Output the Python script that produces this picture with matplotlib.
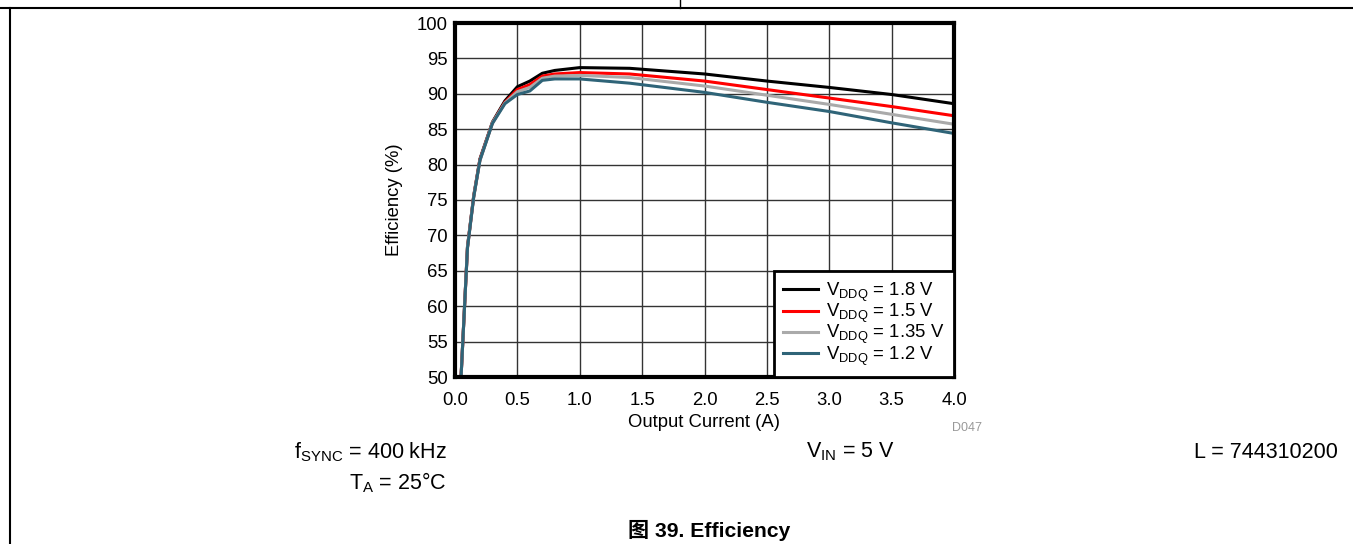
import matplotlib
matplotlib.use("Agg")
import matplotlib.pyplot as plt
from matplotlib.lines import Line2D

plt.rcParams['font.family'] = ['Liberation Sans', 'Noto Sans CJK SC', 'DejaVu Sans']
plt.rcParams['mathtext.fontset'] = 'custom'
plt.rcParams['mathtext.rm'] = 'Liberation Sans'
plt.rcParams['mathtext.it'] = 'Liberation Sans'
plt.rcParams['mathtext.bf'] = 'Liberation Sans:bold'

# Output current (A) sample points
current = [0.04, 0.1, 0.15, 0.2, 0.3, 0.4, 0.5, 0.6, 0.7, 0.8, 1.0, 1.4, 2.0, 2.5, 3.0, 3.5, 4.0]

# Efficiency (%) for each VDDQ setting
eff_18 = [47.0, 68.4, 75.6, 80.8, 86.0, 89.0, 91.0, 91.8, 92.9, 93.3, 93.7, 93.6, 92.8, 91.8, 90.9, 89.9, 88.6]
eff_15 = [47.0, 68.3, 75.5, 80.7, 85.9, 88.8, 90.6, 91.3, 92.5, 92.8, 93.0, 92.8, 91.8, 90.6, 89.4, 88.2, 86.9]
eff_135 = [47.0, 68.3, 75.5, 80.6, 85.9, 88.7, 90.3, 90.9, 92.2, 92.5, 92.6, 92.3, 91.1, 89.8, 88.5, 87.1, 85.7]
eff_12 = [47.0, 68.2, 75.4, 80.6, 85.8, 88.6, 89.9, 90.4, 91.9, 92.1, 92.1, 91.5, 90.2, 88.8, 87.5, 85.9, 84.4]

series = [
    (eff_18, '#000000', r'V$_{\mathregular{DDQ}}$ = 1.8 V'),
    (eff_15, '#ff0000', r'V$_{\mathregular{DDQ}}$ = 1.5 V'),
    (eff_135, '#aaaaaa', r'V$_{\mathregular{DDQ}}$ = 1.35 V'),
    (eff_12, '#2f6478', r'V$_{\mathregular{DDQ}}$ = 1.2 V'),
]

x_ticks = [0.0, 0.5, 1.0, 1.5, 2.0, 2.5, 3.0, 3.5, 4.0]
y_ticks = [50, 55, 60, 65, 70, 75, 80, 85, 90, 95, 100]

W, H = 1353, 544
fig = plt.figure(figsize=(W / 100, H / 100), dpi=100)

# page frame lines
fig.add_artist(Line2D([0, 1], [1 - 8 / H, 1 - 8 / H], color='black', lw=1.5, transform=fig.transFigure))
fig.add_artist(Line2D([680 / W, 680 / W], [1 - 8 / H, 1], color='black', lw=1.0, transform=fig.transFigure))
fig.add_artist(Line2D([10 / W, 10 / W], [0, 1 - 8 / H], color='black', lw=1.5, transform=fig.transFigure))

ax = fig.add_axes([455 / W, 1 - 377 / H, (954 - 455) / W, (377 - 23) / H])
for vals, col, lab in series:
    ax.plot(current, vals, color=col, lw=2.2, label=lab, zorder=3)

ax.set_xlim(0, 4)
ax.set_ylim(50, 100)
ax.set_xticks(x_ticks)
ax.set_xticklabels([f'{v:.1f}' for v in x_ticks])
ax.set_yticks(y_ticks)
ax.tick_params(length=0, labelsize=13.3)
ax.tick_params(axis='x', pad=11)
ax.tick_params(axis='y', pad=5)
ax.grid(True, color='#333333', lw=1.0)
ax.set_axisbelow(True)
for sp in ax.spines.values():
    sp.set_linewidth(3)
    sp.set_zorder(4)

ax.set_xlabel('Output Current (A)', fontsize=13.3, labelpad=3.5)
ax.set_ylabel('Efficiency (%)', fontsize=13.3, labelpad=10)

leg = ax.legend(loc='lower right', fontsize=13.3, frameon=True, fancybox=False,
                edgecolor='black', framealpha=1, borderaxespad=0,
                handlelength=1.9, handletextpad=0.45, labelspacing=-0.1,
                borderpad=0.5)
leg.get_frame().set_linewidth(2)
leg.set_zorder(5)

fig.text(982 / W, 1 - 428 / H, 'D047', fontsize=9, color='#999999', ha='right', va='center')

fig.text(447 / W, 1 - 452 / H, r'f$_{\mathregular{SYNC}}$ = 400 kHz', fontsize=15.5, ha='right', va='center')
fig.text(447 / W, 1 - 483 / H, r'T$_{\mathregular{A}}$ = 25°C', fontsize=15.5, ha='right', va='center')
fig.text(850 / W, 1 - 452 / H, r'V$_{\mathregular{IN}}$ = 5 V', fontsize=15.5, ha='center', va='center')
fig.text(1338 / W, 1 - 452 / H, 'L = 744310200', fontsize=15.5, ha='right', va='center')
fig.text(709 / W, 1 - 530 / H, '图 39. Efficiency', fontsize=15.2, fontweight='bold',
         ha='center', va='center')

fig.savefig('out.png', dpi=100)
